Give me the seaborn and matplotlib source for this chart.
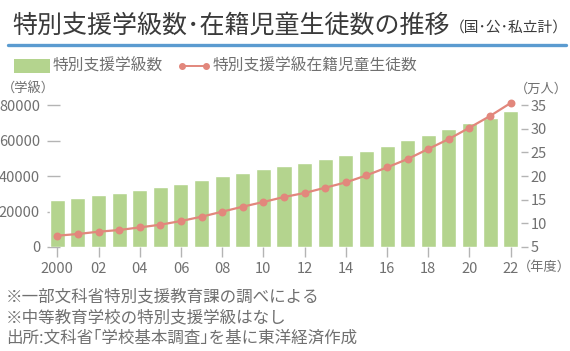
import pandas as pd
import seaborn as sns
import matplotlib.pyplot as plt
from matplotlib.patches import Rectangle
from matplotlib.lines import Line2D

years = ['2000', '02', '04', '06', '08', '10', '12', '14', '16', '18', '20', '22']
all_years = [str(y) for y in range(2000, 2023)]
classes = [26240, 27590, 29280, 30180, 32090, 33780, 35640, 37890, 39750, 41830,
           43910, 45380, 47460, 49540, 51800, 54220, 57030, 60020, 63220, 66430,
           69590, 72800, 76340]
students = [7.39, 7.75, 8.23, 8.59, 9.14, 9.71, 10.49, 11.4, 12.46, 13.52,
            14.51, 15.56, 16.41, 17.53, 18.65, 20.13, 21.82, 23.59, 25.71, 27.82,
            30.21, 32.68, 35.43]
left_ticks = [0, 20000, 40000, 60000, 80000]
right_ticks = [5, 10, 15, 20, 25, 30, 35]

sns.set_style('white')
plt.rcParams['font.family'] = ['Noto Sans CJK JP', 'DejaVu Sans']

bar_color = '#b4d48e'
line_color = '#e2877c'
text_color = '#707070'
tick_color = '#b4b4b4'

df = pd.DataFrame({'year': all_years, 'classes': classes, 'students': students})

W, H = 570, 351
fig = plt.figure(figsize=(5.7, 3.51), dpi=100)
ax = fig.add_axes([47 / W, 104 / H, 474 / W, 142 / H])

def fx(px):
    return px / W

def fy(py):
    return 1 - py / H

sns.barplot(data=df, x='year', y='classes', color=bar_color, width=0.73,
            saturation=1, ax=ax)
ax.set_axisbelow(True)

ax2 = ax.twinx()
sns.pointplot(data=df, x='year', y='students', color=line_color, markers='o',
              markersize=4.5, linewidth=1.6, ax=ax2)
for art in ax2.lines + ax2.collections:
    art.set_clip_on(False)

ax.set_xlim(-0.5, 22.5)
ax.set_ylim(0, 80000)
ax2.set_ylim(5, 35)

for a in (ax, ax2):
    for s in a.spines.values():
        s.set_visible(False)
    a.set_xlabel('')
    a.set_ylabel('')

ax.set_xticks([all_years.index(y) if y in all_years else all_years.index('20' + y) for y in years])
ax.set_xticklabels(years)
ax.set_yticks(left_ticks)
ax.set_yticklabels([str(t) for t in left_ticks])
ax2.set_yticks(right_ticks)
ax2.set_yticklabels([str(t) for t in right_ticks])

ax.tick_params(axis='x', direction='out', length=7, width=1, color=tick_color,
               labelsize=10.5, labelcolor=text_color, pad=4, bottom=True)
ax.tick_params(axis='y', direction='in', length=9, width=1, color=tick_color,
               labelsize=10.5, labelcolor=text_color, pad=5, left=True)
ax2.tick_params(axis='y', direction='out', length=5, width=1, color=tick_color,
                labelsize=10.5, labelcolor=text_color, pad=2, right=True)

# title
t = fig.text(fx(12), fy(33), '特別支援学級数･在籍児童生徒数の推移', fontsize=18,
             color='#3a3a3a', va='baseline', ha='left')
fig.canvas.draw()
bb = t.get_window_extent()
fig.text(bb.x1 / W, fy(33), '（国･公･私立計）', fontsize=10.6,
         color='#3a3a3a', va='baseline', ha='left')
fig.add_artist(Line2D([fx(8), fx(566)], [fy(45), fy(45)],
                      color='#5b9bd0', linewidth=2.4, transform=fig.transFigure))

# legend
fig.add_artist(Rectangle((fx(14), fy(73)), 36 / W, 14 / H, facecolor=bar_color,
                         edgecolor='none', transform=fig.transFigure))
fig.text(fx(53), fy(66), '特別支援学級数', fontsize=11.3, color=text_color,
         va='center', ha='left')
fig.add_artist(Line2D([fx(182), fx(206)], [fy(66), fy(66)], color=line_color,
                      linewidth=1.4, marker='o', markersize=4,
                      transform=fig.transFigure))
fig.text(fx(213), fy(66), '特別支援学級在籍児童生徒数', fontsize=11.3,
         color=text_color, va='center', ha='left')

# axis units
fig.text(fx(2), fy(89), '（学級）', fontsize=9.5, color=text_color,
         va='center', ha='left')
fig.text(fx(568), fy(89), '（万人）', fontsize=9.5, color=text_color,
         va='center', ha='right')
fig.text(fx(518), fy(267), '（年度）', fontsize=9.5, color=text_color,
         va='center', ha='left')

# notes
notes = ['※一部文科省特別支援教育課の調べによる',
         '※中等教育学校の特別支援学級はなし',
         '出所:文科省｢学校基本調査｣を基に東洋経済作成']
for i, n in enumerate(notes):
    fig.text(fx(6), fy(297 + 20.5 * i), n, fontsize=11.9,
             color=text_color, va='center', ha='left')

fig.savefig('out.png', dpi=100, facecolor='white')
